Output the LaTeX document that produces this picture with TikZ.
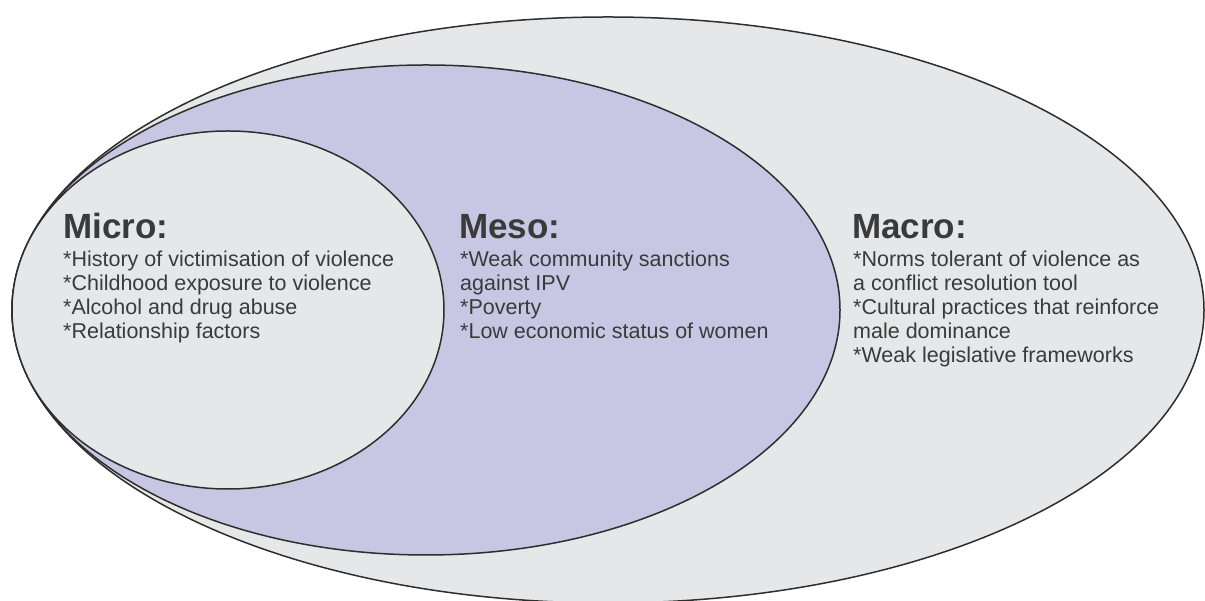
\documentclass[tikz,border=0pt]{standalone}
\usepackage{fontspec}
\setmainfont{Liberation Sans}
\definecolor{ringgray}{HTML}{E6E7E8}
\definecolor{ringpurple}{HTML}{C9C6E3}
\definecolor{edgegray}{HTML}{2E2E2E}
\definecolor{textgray}{HTML}{3A3A3A}
\tikzset{
  ring/.style={draw=edgegray, line width=1.5pt},
  headtext/.style={anchor=base west, inner sep=0pt, text=textgray,
    font=\bfseries\fontsize{35}{40}\selectfont},
  bodytext/.style={anchor=base west, inner sep=0pt, text=textgray, align=left,
    font=\fontsize{21.5}{23.8}\selectfont}
}
\begin{document}
\begin{tikzpicture}[x=1pt,y=1pt]
\useasboundingbox (0,0) rectangle (1205,601);
% outer (macro)
\draw[ring, fill=ringgray] (608,291) ellipse [x radius=596, y radius=293];
% middle (meso)
\draw[ring, fill=ringpurple] (426,291) ellipse [x radius=414, y radius=245];
% inner (micro)
\draw[ring, fill=ringgray] (228,291) ellipse [x radius=216, y radius=179];

% body nodes: base anchor is the baseline of the last line
\node[headtext] (microhead) at (63,362) {Micro:};
\node[bodytext] (microbody) at (63,262.6) {*History of victimisation of violence\\*Childhood exposure to violence\\*Alcohol and drug abuse\\*Relationship factors};

\node[headtext] (mesohead) at (459,362) {Meso:};
\node[bodytext] (mesobody) at (460,262.6) {*Weak community sanctions\\against IPV\\*Poverty\\*Low economic status of women};

\node[headtext] (macrohead) at (852,362) {Macro:};
\node[bodytext] (macrobody) at (853,238.8) {*Norms tolerant of violence as\\a conflict resolution tool\\*Cultural practices that reinforce\\male dominance\\*Weak legislative frameworks};
\end{tikzpicture}
\end{document}
